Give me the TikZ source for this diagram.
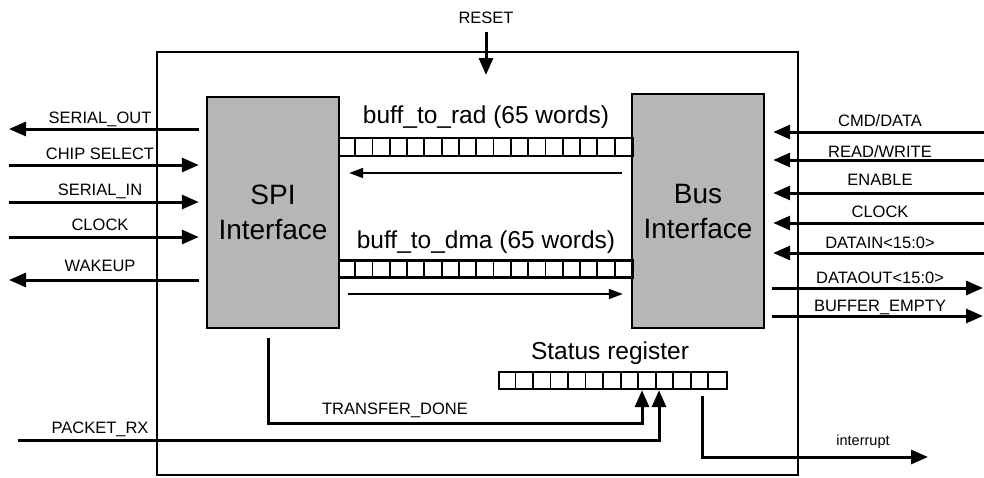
\documentclass[tikz,border=0pt]{standalone}
\usepackage{fontspec}
\setmainfont{Liberation Sans}
\usetikzlibrary{arrows.meta,calc}
\definecolor{blockgray}{RGB}{182,182,182}
\tikzset{
  sig/.style={line width=3pt, -{Triangle[length=17pt,width=14pt]}},
  thinarrow/.style={line width=1.8pt, -{Triangle[length=14pt,width=10pt]}},
  lbl/.style={font=\fontsize{16.5}{19}\selectfont, anchor=base, inner sep=0pt},
  block/.style={draw, line width=2.4pt, fill=blockgray, minimum width=132pt,
    minimum height=232pt, inner sep=0pt, align=center,
    font=\fontsize{28}{35}\selectfont},
  reg/.style={draw, line width=2.2pt, inner sep=0pt, minimum height=18pt},
  cell/.style={line width=1.8pt},
  biglbl/.style={font=\fontsize{24.5}{28}\selectfont, anchor=base, inner sep=0pt},
}
\begin{document}
\begin{tikzpicture}[x=1pt,y=-1pt]
\useasboundingbox (0,0) rectangle (984,477);
% outer box
\node[draw, line width=2.2pt, minimum width=641pt, minimum height=423pt, inner sep=0pt] (outer) at (477.5,263.5) {};
% blocks
\node[block, minimum height=231pt] (spi) at (273,212.5) {SPI\\Interface};
\node[block, minimum height=234pt] (bus) at (698,211) {Bus\\Interface};
% buffers
\node[reg, minimum width=294pt] (brad) at (486,147) {};
\node[reg, minimum width=294pt, minimum height=17pt] (bdma) at (486,269) {};
\foreach \i in {1,...,16}{
  \draw[cell] ([xshift=\i*17.294pt]brad.north west) -- ([xshift=\i*17.294pt]brad.south west);
  \draw[cell] ([xshift=\i*17.294pt]bdma.north west) -- ([xshift=\i*17.294pt]bdma.south west);
}
\node[biglbl] (lrad) at (486,123) {buff\_to\_rad (65 words)};
\node[biglbl] (ldma) at (486,248) {buff\_to\_dma (65 words)};
% buffer arrows
\coordinate (ya) at (0,173);
\coordinate (yb) at (0,294);
\draw[thinarrow, shorten <=9pt, shorten >=9pt] (bus.west |- ya) -- (spi.east |- ya);
\draw[thinarrow, shorten <=8pt, shorten >=8pt] (spi.east |- yb) -- (bus.west |- yb);
% status register
\node[reg, minimum width=228pt, minimum height=17pt] (status) at (613,380.5) {};
\foreach \i in {1,...,12}{
  \draw[cell] ([xshift=\i*17.538pt]status.north west) -- ([xshift=\i*17.538pt]status.south west);
}
\node[biglbl] (lstat) at (610,359) {Status register};
% RESET
\coordinate (rs0) at (486,32);
\coordinate (rs1) at (486,75);
\draw[sig] (rs0) -- (rs1);
\node[lbl] (lreset) at (486,23) {RESET};
% left signals
\coordinate (so) at (9,129);
\coordinate (cs) at (9,165);
\coordinate (si) at (9,202);
\coordinate (ck) at (9,237);
\coordinate (wk) at (9,280);
\draw[sig, shorten <=7pt] (spi.west |- so) -- (so);
\draw[sig, shorten >=7pt] (cs) -- (spi.west |- cs);
\draw[sig, shorten >=7pt] (si) -- (spi.west |- si);
\draw[sig, shorten >=7pt] (ck) -- (spi.west |- ck);
\draw[sig, shorten <=7pt] (spi.west |- wk) -- (wk);
\node[lbl] (lso) at (100,123) {SERIAL\_OUT};
\node[lbl] (lcs) at (100,159) {CHIP SELECT};
\node[lbl] (lsi) at (100,195) {SERIAL\_IN};
\node[lbl] (lck) at (100,230) {CLOCK};
\node[lbl] (lwk) at (100,271) {WAKEUP};
% right signals
\coordinate (cmd) at (984,132);
\coordinate (rw) at (984,160);
\coordinate (en) at (984,193);
\coordinate (rck) at (984,223);
\coordinate (din) at (984,253);
\coordinate (dout) at (983,288);
\coordinate (bem) at (983,316);
\draw[sig, shorten >=8pt] (cmd) -- (bus.east |- cmd);
\draw[sig, shorten >=8pt] (rw) -- (bus.east |- rw);
\draw[sig, shorten >=8pt] (en) -- (bus.east |- en);
\draw[sig, shorten >=8pt] (rck) -- (bus.east |- rck);
\draw[sig, shorten >=8pt] (din) -- (bus.east |- din);
\draw[sig, shorten <=7pt] (bus.east |- dout) -- (dout);
\draw[sig, shorten <=7pt] (bus.east |- bem) -- (bem);
\node[lbl] (lcmd) at (880,126) {CMD/DATA};
\node[lbl] (lrw) at (880,157) {READ/WRITE};
\node[lbl] (len) at (880,185) {ENABLE};
\node[lbl] (lrck) at (880,217) {CLOCK};
\node[lbl] (ldin) at (880,248) {DATAIN<15:0>};
\node[lbl] (ldout) at (880,283) {DATAOUT<15:0>};
\node[lbl] (lbem) at (880,311) {BUFFER\_EMPTY};
% bottom connections
\coordinate (td0) at (268,338);
\coordinate (tdc) at (642,423);
\draw[sig] (td0) |- (tdc) -- (tdc |- status.south);
\node[lbl] (ltd) at (395,414) {TRANSFER\_DONE};
\coordinate (prx) at (18,440);
\coordinate (prc) at (659,440);
\draw[sig] (prx) -- (prc) -- (prc |- status.south);
\node[lbl] (lprx) at (100,433) {PACKET\_RX};
\coordinate (ir0) at (702,396);
\coordinate (ir1) at (928,457);
\draw[sig] (ir0) |- (ir1);
\node[lbl, font=\fontsize{14.5}{16}\selectfont] (lir) at (863,445) {interrupt};
\end{tikzpicture}
\end{document}
